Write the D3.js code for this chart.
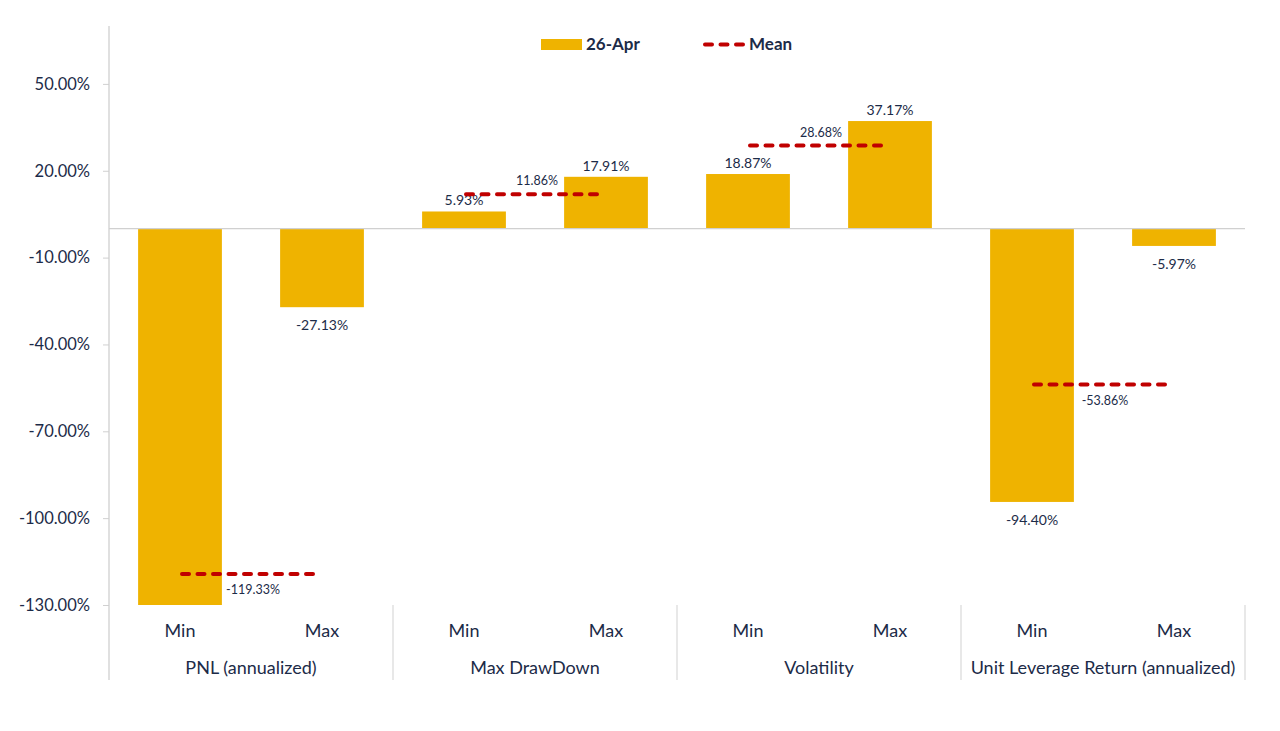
<!DOCTYPE html>
<html>
<head>
<meta charset="utf-8">
<script src="https://cdn.jsdelivr.net/npm/d3@7"></script>
<style>
  body { margin: 0; background: #fff; }
  text { font-family: Lato, "Open Sans", sans-serif; fill: #1c2b48; }
</style>
</head>
<body>
<div id="chart"></div>
<script>
// chart values
const groups = ['PNL (annualized)', 'Max DrawDown', 'Volatility', 'Unit Leverage Return (annualized)'];
const subCats = ['Min', 'Max'];
// 26-Apr values per group: [Min, Max]
const aprValues = [[-130.0, -27.13], [5.93, 17.91], [18.87, 37.17], [-94.40, -5.97]];
const meanValues = [-119.33, 11.86, 28.68, -53.86];
const yTicks = [-130, -100, -70, -40, -10, 20, 50];
const yDomain = [-130, 70];

const width = 1280, height = 731;
const margin = { top: 26, right: 35, bottom: 126, left: 109 };

const svg = d3.select('#chart').append('svg')
    .attr('width', width)
    .attr('height', height);

const x0 = d3.scaleBand()
    .domain(groups)
    .range([margin.left, width - margin.right])
    .padding(0);

const x1 = d3.scaleBand()
    .domain(subCats)
    .range([0, x0.bandwidth()])
    .padding(0);

const barW = x1.bandwidth() * 0.59;

const y = d3.scaleLinear()
    .domain(yDomain)
    .range([height - margin.bottom, margin.top]);

const fmt = v => v.toFixed(2) + '%';

// y axis
const yAxis = svg.append('g')
    .attr('transform', `translate(${margin.left},0)`)
    .call(d3.axisLeft(y).tickValues(yTicks).tickSize(6).tickPadding(13).tickFormat(fmt));
yAxis.select('.domain').remove();
yAxis.selectAll('.tick line').attr('stroke', '#d0d0d0');
yAxis.selectAll('.tick text')
    .style('font-size', '16.5px')
    .attr('fill', '#1c2b48');

// y axis line (runs through the category area)
svg.append('line')
    .attr('x1', margin.left).attr('x2', margin.left)
    .attr('y1', margin.top).attr('y2', height - margin.bottom + 75)
    .attr('stroke', '#d0d0d0').attr('stroke-width', 1.3);

// group separators below plot
groups.forEach((g, i) => {
    if (i === 0) return;
    svg.append('line')
        .attr('x1', x0(g)).attr('x2', x0(g))
        .attr('y1', y(yDomain[0])).attr('y2', y(yDomain[0]) + 75)
        .attr('stroke', '#d9d9d9').attr('stroke-width', 1.2);
});
svg.append('line')
    .attr('x1', x0.range()[1]).attr('x2', x0.range()[1])
    .attr('y1', y(yDomain[0])).attr('y2', y(yDomain[0]) + 75)
    .attr('stroke', '#d9d9d9').attr('stroke-width', 1.2);

// flatten bar data
const bars = [];
groups.forEach((g, gi) => {
    subCats.forEach((s, si) => {
        bars.push({ group: g, sub: s, value: aprValues[gi][si] });
    });
});
const cx = d => x0(d.group) + x1(d.sub) + x1.bandwidth() / 2;

svg.selectAll('rect.bar')
    .data(bars)
    .enter()
    .append('rect')
    .attr('class', 'bar')
    .attr('x', d => cx(d) - barW / 2)
    .attr('width', barW)
    .attr('y', d => y(Math.max(0, d.value)))
    .attr('height', d => Math.abs(y(Math.max(d.value, yDomain[0])) - y(0)))
    .attr('fill', '#efb300');

// zero line
svg.append('line')
    .attr('x1', margin.left).attr('x2', x0.range()[1])
    .attr('y1', y(0)).attr('y2', y(0))
    .attr('stroke', '#d0d0d0').attr('stroke-width', 1.3);

// bar labels (hidden when value falls outside the axis range)
svg.selectAll('text.bar-label')
    .data(bars.filter(d => d.value > yDomain[0]))
    .enter()
    .append('text')
    .attr('class', 'bar-label')
    .attr('x', cx)
    .attr('y', d => d.value >= 0 ? y(d.value) - 6 : y(d.value) + 23)
    .attr('text-anchor', 'middle')
    .style('font-size', '14px')
    .text(d => fmt(d.value));

// mean lines
const meanData = groups.map((g, i) => ({ group: g, value: meanValues[i] }));
const mx1 = d => x0(d.group) + x1('Min') + x1.bandwidth() / 2;
const mx2 = d => x0(d.group) + x1('Max') + x1.bandwidth() / 2;

svg.selectAll('line.mean')
    .data(meanData)
    .enter()
    .append('line')
    .attr('class', 'mean')
    .attr('x1', d => mx1(d) + 2)
    .attr('x2', d => mx2(d) - 2)
    .attr('y1', d => y(d.value))
    .attr('y2', d => y(d.value))
    .attr('stroke', '#c00000')
    .attr('stroke-width', 4)
    .attr('stroke-linecap', 'round')
    .attr('stroke-dasharray', '7,8.5');

svg.selectAll('text.mean-label')
    .data(meanData)
    .enter()
    .append('text')
    .attr('class', 'mean-label')
    .attr('x', d => (mx1(d) + mx2(d)) / 2 + 2)
    .attr('y', d => d.value >= 0 ? y(d.value) - 9 : y(d.value) + 20)
    .attr('text-anchor', 'middle')
    .style('font-size', '12.5px')
    .text(d => fmt(d.value));

// category labels
bars.forEach(d => {
    svg.append('text')
        .attr('x', cx(d))
        .attr('y', y(yDomain[0]) + 32)
        .attr('text-anchor', 'middle')
        .style('font-size', '18px')
        .text(d.sub);
});
groups.forEach(g => {
    svg.append('text')
        .attr('x', x0(g) + x0.bandwidth() / 2)
        .attr('y', y(yDomain[0]) + 69)
        .attr('text-anchor', 'middle')
        .style('font-size', '18px')
        .text(g);
});

// legend
const legend = svg.append('g');
legend.append('rect')
    .attr('x', 541).attr('y', 39).attr('width', 41).attr('height', 11)
    .attr('fill', '#efb300');
legend.append('text')
    .attr('x', 586).attr('y', 50)
    .style('font-size', '17px').style('font-weight', 'bold')
    .text('26-Apr');
legend.append('line')
    .attr('x1', 705).attr('x2', 744).attr('y1', 44.5).attr('y2', 44.5)
    .attr('stroke', '#c00000').attr('stroke-width', 4)
    .attr('stroke-linecap', 'round').attr('stroke-dasharray', '7,8.5');
legend.append('text')
    .attr('x', 749).attr('y', 50)
    .style('font-size', '17px').style('font-weight', 'bold')
    .text('Mean');
</script>
</body>
</html>
